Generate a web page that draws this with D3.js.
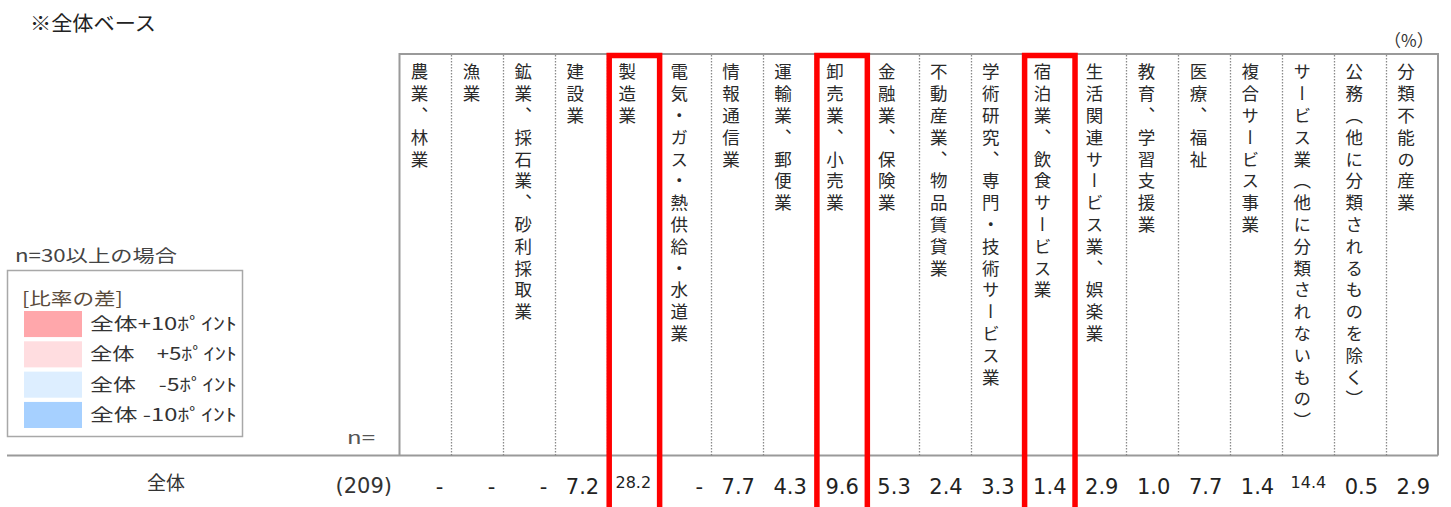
<!DOCTYPE html>
<html><head><meta charset="utf-8">
<script src="https://cdn.jsdelivr.net/npm/d3@7"></script>
<style>
html,body{margin:0;padding:0;background:#fff;}
svg text{font-family:"Noto Sans CJK JP","DejaVu Sans",sans-serif;}
</style></head>
<body><svg id="c" width="1451" height="507"></svg>
<script>
// ---- data ----
const categories = ["農業、林業","漁業","鉱業、採石業、砂利採取業","建設業","製造業","電気・ガス・熱供給・水道業","情報通信業","運輸業、郵便業","卸売業、小売業","金融業、保険業","不動産業、物品賃貸業","学術研究、専門・技術サービス業","宿泊業、飲食サービス業","生活関連サービス業、娯楽業","教育、学習支援業","医療、福祉","複合サービス事業","サービス業（他に分類されないもの）","公務（他に分類されるものを除く）","分類不能の産業"];
const values = [null,null,null,7.2,28.2,null,7.7,4.3,9.6,5.3,2.4,3.3,1.4,2.9,1.0,7.7,1.4,14.4,0.5,2.9];
const highlighted = ["製造業","卸売業、小売業","宿泊業、飲食サービス業"];
const rowLabel = "全体";
const rowN = 209;
const legendTitle = "[比率の差]";
const legendLabels = ["全体+10ﾎﾟｲﾝﾄ","全体　+5ﾎﾟｲﾝﾄ","全体　-5ﾎﾟｲﾝﾄ","全体 -10ﾎﾟｲﾝﾄ"];
const legendColors = ["#ffa7ab","#ffdde0","#ddeeff","#a6d0ff"];

// ---- layout ----
const svg = d3.select("#c");
const hTop = 54, hBottom = 455.5;
const x = d3.scaleBand().domain(categories).range([399.5, 1438]).padding(0);
const bw = x.bandwidth();

// stretch text horizontally so that it spans a given width
function fit(sel, w){
  sel.each(function(){
    const n = this.getComputedTextLength();
    const x0 = +this.getAttribute("x"), y0 = +this.getAttribute("y");
    const s = w / n;
    d3.select(this).attr("transform",`translate(${x0},${y0}) scale(${s},1) translate(${-x0},${-y0})`);
  });
}

fit(svg.append("text").attr("x",30).attr("y",31).attr("font-size",20.5).attr("fill","#222").text("※全体ベース"),126);
svg.append("text").attr("x",1384).attr("y",47).attr("font-size",17).attr("fill","#333").text("（%）");

// header box
svg.append("path")
  .attr("d",`M${x.range()[0]},${hBottom}V${hTop}H${x.range()[1]}V${hBottom}`)
  .attr("fill","none").attr("stroke","#9a9a9a").attr("stroke-width",2);
svg.append("line").attr("x1",7).attr("x2",x.range()[1]).attr("y1",hBottom).attr("y2",hBottom)
  .attr("stroke","#9a9a9a").attr("stroke-width",2);

// dotted separators
svg.append("g").selectAll("line").data(categories.slice(1)).join("line")
  .attr("x1",d=>Math.round(x(d))+0.5).attr("x2",d=>Math.round(x(d))+0.5)
  .attr("y1",hTop+1).attr("y2",hBottom)
  .attr("stroke","#8a8a8a").attr("stroke-width",1.3).attr("stroke-dasharray","1.5,1.5");

// vertical category labels
svg.append("g").selectAll("text").data(categories).join("text")
  .attr("x",d=>x(d)+20).attr("y",63)
  .style("writing-mode","vertical-rl")
  .style("letter-spacing","4.3px")
  .attr("font-size",17.5).attr("fill","#2a2a2a")
  .text(d=>d);

// row
svg.append("text").attr("x",166).attr("y",490).attr("text-anchor","middle").attr("font-size",19).attr("fill","#333").text(rowLabel);
svg.append("text").attr("x",392).attr("y",493).attr("text-anchor","end").attr("font-size",21)
  .style("font-family","DejaVu Sans").attr("fill","#333").text(`(${rowN})`);
fit(svg.append("text").attr("x",347).attr("y",444).attr("font-size",17).attr("fill","#555").text("n="),28);

const fmt = d3.format(".1f");
svg.append("g").selectAll("text").data(categories).join("text")
  .attr("x",d=>x(d)+bw-8)
  .attr("y",(d,i)=> values[i]!==null && values[i]>=10 ? 488 : 494)
  .attr("text-anchor","end")
  .style("font-family","DejaVu Sans")
  .attr("font-size",(d,i)=> values[i]!==null && values[i]>=10 ? 16 : 21)
  .attr("fill","#222")
  .text((d,i)=> values[i]===null ? "-" : fmt(values[i]));

// red highlight boxes
svg.append("g").selectAll("rect").data(highlighted).join("rect")
  .attr("x",d=>x(d)+2).attr("y",55.5).attr("width",bw-1.5).attr("height",480)
  .attr("fill","none").attr("stroke","#ff0000").attr("stroke-width",5.5);

// legend
fit(svg.append("text").attr("x",15).attr("y",262).attr("font-size",17.5).attr("fill","#444").text("n=30以上の場合"),162);
svg.append("rect").attr("x",7.5).attr("y",270.5).attr("width",235).attr("height",166)
  .attr("fill","#fff").attr("stroke","#a8a8a8").attr("stroke-width",1.5);
fit(svg.append("text").attr("x",22).attr("y",305).attr("font-size",17.5).attr("fill","#5a4a3a").text(legendTitle),101);
const ly = d3.scaleBand().domain(legendLabels).range([311,428]).paddingInner(0.14);
const lg = svg.append("g").selectAll("g").data(legendLabels).join("g");
lg.append("rect").attr("x",24).attr("y",d=>ly(d)).attr("width",58).attr("height",ly.bandwidth())
  .attr("fill",(d,i)=>legendColors[i]);
fit(lg.append("text").attr("x",90).attr("y",d=>ly(d)+ly.bandwidth()/2+6)
  .attr("font-size",17.5).attr("fill","#333").style("white-space","pre").text(d=>d),147);
</script></body></html>
